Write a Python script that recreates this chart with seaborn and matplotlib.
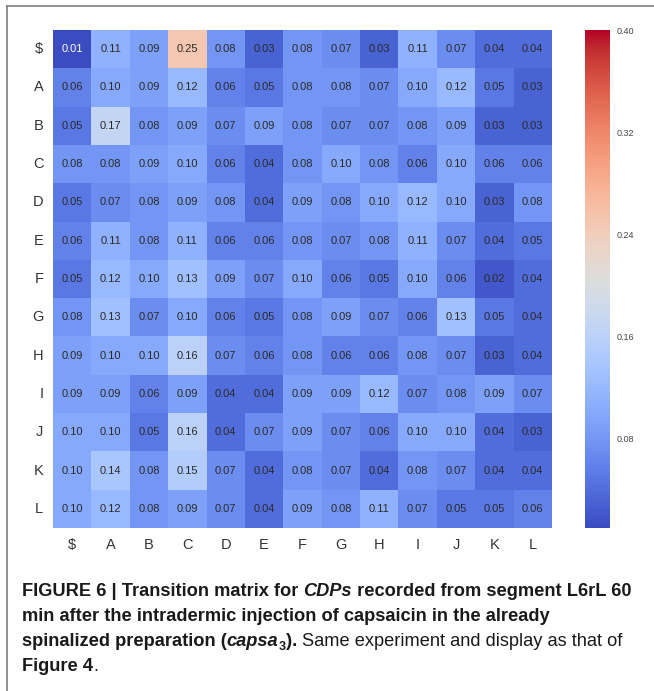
import numpy as np
import pandas as pd
import seaborn as sns
import matplotlib
matplotlib.use("Agg")
from matplotlib import pyplot as plt
from matplotlib.lines import Line2D

# states of the transition matrix ($ = start/end symbol)
states = ["$", "A", "B", "C", "D", "E", "F", "G", "H", "I", "J", "K", "L"]

# transition probabilities, one row per "from" state
row_dollar = [0.01, 0.11, 0.09, 0.25, 0.08, 0.03, 0.08, 0.07, 0.03, 0.11, 0.07, 0.04, 0.04]
row_a = [0.06, 0.10, 0.09, 0.12, 0.06, 0.05, 0.08, 0.08, 0.07, 0.10, 0.12, 0.05, 0.03]
row_b = [0.05, 0.17, 0.08, 0.09, 0.07, 0.09, 0.08, 0.07, 0.07, 0.08, 0.09, 0.03, 0.03]
row_c = [0.08, 0.08, 0.09, 0.10, 0.06, 0.04, 0.08, 0.10, 0.08, 0.06, 0.10, 0.06, 0.06]
row_d = [0.05, 0.07, 0.08, 0.09, 0.08, 0.04, 0.09, 0.08, 0.10, 0.12, 0.10, 0.03, 0.08]
row_e = [0.06, 0.11, 0.08, 0.11, 0.06, 0.06, 0.08, 0.07, 0.08, 0.11, 0.07, 0.04, 0.05]
row_f = [0.05, 0.12, 0.10, 0.13, 0.09, 0.07, 0.10, 0.06, 0.05, 0.10, 0.06, 0.02, 0.04]
row_g = [0.08, 0.13, 0.07, 0.10, 0.06, 0.05, 0.08, 0.09, 0.07, 0.06, 0.13, 0.05, 0.04]
row_h = [0.09, 0.10, 0.10, 0.16, 0.07, 0.06, 0.08, 0.06, 0.06, 0.08, 0.07, 0.03, 0.04]
row_i = [0.09, 0.09, 0.06, 0.09, 0.04, 0.04, 0.09, 0.09, 0.12, 0.07, 0.08, 0.09, 0.07]
row_j = [0.10, 0.10, 0.05, 0.16, 0.04, 0.07, 0.09, 0.07, 0.06, 0.10, 0.10, 0.04, 0.03]
row_k = [0.10, 0.14, 0.08, 0.15, 0.07, 0.04, 0.08, 0.07, 0.04, 0.08, 0.07, 0.04, 0.04]
row_l = [0.10, 0.12, 0.08, 0.09, 0.07, 0.04, 0.09, 0.08, 0.11, 0.07, 0.05, 0.05, 0.06]

cbar_ticks = [0.08, 0.16, 0.24, 0.32, 0.40]

matrix = pd.DataFrame([row_dollar, row_a, row_b, row_c, row_d, row_e, row_f,
                       row_g, row_h, row_i, row_j, row_k, row_l],
                      index=states, columns=states)

plt.rcParams["font.family"] = ["Liberation Sans", "DejaVu Sans"]

W, H = 654, 691
fig = plt.figure(figsize=(W / 100, H / 100), dpi=100)
ax = fig.add_axes([53 / W, 1 - 528 / H, 499 / W, 498 / H])
cax = fig.add_axes([585 / W, 1 - 528 / H, 25 / W, 498 / H])

sns.heatmap(matrix, ax=ax, cbar_ax=cax, cmap="coolwarm",
            vmin=0.01, vmax=0.40, annot=True, fmt=".2f",
            annot_kws={"fontsize": 8},
            cbar_kws={"ticks": cbar_ticks})

# dark labels everywhere except on the darkest cell
for t in ax.texts:
    t.set_color("white" if float(t.get_text()) < 0.02 else "#2a2a2a")

ax.tick_params(length=0, labelsize=10.5, labelcolor="#333333", pad=7)
ax.set_yticklabels(states, rotation=0)
ax.set_xticklabels(states, rotation=0)
ax.set_xlabel("")
ax.set_ylabel("")

cbar = ax.collections[0].colorbar
cbar.outline.set_visible(False)
cax.tick_params(length=0, labelsize=6.5, labelcolor="#444444", pad=5)
cax.yaxis.set_major_formatter(matplotlib.ticker.FormatStrFormatter("%.2f"))

# journal frame lines
fig.add_artist(Line2D([7 / W, 7 / W], [0, 1 - 6 / H], color="#888888", lw=1.3))
fig.add_artist(Line2D([7 / W, 1], [1 - 6 / H, 1 - 6 / H], color="#888888", lw=1.3))

# caption with mixed styles, placed run by run
cap_size = 13.15
renderer = fig.canvas.get_renderer()


def run_width(s, **kw):
    a = fig.text(0, 0, "|" + s + "|", **kw)
    b = fig.text(0, 0, "||", **kw)
    w = a.get_window_extent(renderer).width - b.get_window_extent(renderer).width
    a.remove()
    b.remove()
    return w


def draw_line(runs, x_px, base_px):
    x = x_px
    for s, weight, style, size, dy in runs:
        kw = dict(fontsize=size, fontweight=weight, fontstyle=style,
                  color="#1a1a1a")
        fig.text(x / W, 1 - (base_px + dy) / H, s, va="baseline", ha="left", **kw)
        x += run_width(s, **kw)


B, N, I = "bold", "normal", "italic"
lines = [
    [("FIGURE 6 | Transition matrix for ", B, N, cap_size, 0),
     ("CDPs", B, I, cap_size, 0),
     (" recorded from segment L6rL 60", B, N, cap_size, 0)],
    [("min after the intradermic injection of capsaicin in the already", B, N, cap_size, 0)],
    [("spinalized preparation (", B, N, cap_size, 0),
     ("capsa", B, I, cap_size, 0),
     ("3", B, N, cap_size * 0.7, 4),
     ("). ", B, N, cap_size, 0),
     ("Same experiment and display as that of", N, N, cap_size, 0)],
    [("Figure 4", B, N, cap_size, 0),
     (".", N, N, cap_size, 0)],
]
for i, ln in enumerate(lines):
    draw_line(ln, 22, 596 + i * 25)

fig.savefig("out.png", dpi=100)
